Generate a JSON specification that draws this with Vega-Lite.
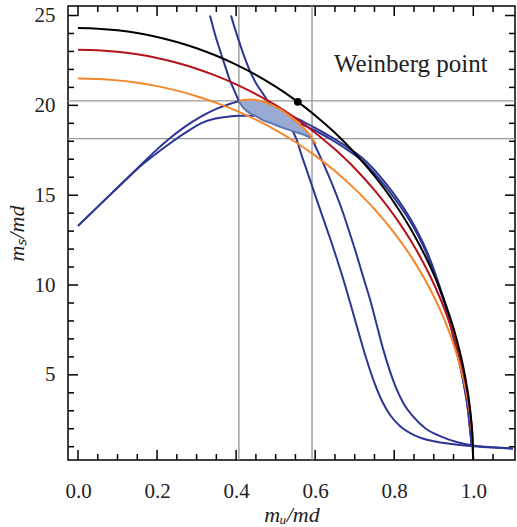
{
  "$schema": "https://vega.github.io/schema/vega-lite/v6.json",
  "width": 447,
  "height": 454,
  "autosize": "none",
  "padding": {"left": 68, "top": 6, "right": 2, "bottom": 67},
  "background": "white",
  "config": {
    "view": {"stroke": "#000", "strokeWidth": 1.5},
    "axisX": {"orient": "bottom", "ticks": false, "domain": false, "grid": false, "labelOverlap": false, "labelFlush": false,
      "labelFont": "Liberation Serif", "labelFontSize": 21, "labelColor": "#222", "labelPadding": 20,
      "titleFont": "Liberation Serif", "titleFontStyle": "italic", "titleFontWeight": "normal", "titleFontSize": 22, "titleColor": "#222", "titlePadding": 3},
    "axisY": {"orient": "left", "ticks": false, "domain": false, "grid": false, "labelOverlap": false, "labelFlush": false,
      "labelFont": "Liberation Serif", "labelFontSize": 21, "labelColor": "#222", "labelPadding": 13,
      "titleFont": "Liberation Serif", "titleFontStyle": "italic", "titleFontWeight": "normal", "titleFontSize": 22, "titleColor": "#222", "titlePadding": 6}
  },
  "datasets": {
    "ell": [
      {"s":"black","x":0,"y":24.3},{"s":"black","x":0.05,"y":24.27},{"s":"black","x":0.1,"y":24.18},{"s":"black","x":0.15,"y":24.03},{"s":"black","x":0.2,"y":23.81},{"s":"black","x":0.25,"y":23.53},{"s":"black","x":0.3,"y":23.18},{"s":"black","x":0.35,"y":22.76},{"s":"black","x":0.4,"y":22.27},{"s":"black","x":0.45,"y":21.7},{"s":"black","x":0.5,"y":21.04},{"s":"black","x":0.55,"y":20.29},{"s":"black","x":0.6,"y":19.44},{"s":"black","x":0.65,"y":18.47},{"s":"black","x":0.7,"y":17.35},{"s":"black","x":0.75,"y":16.07},{"s":"black","x":0.8,"y":14.58},{"s":"black","x":0.85,"y":12.8},{"s":"black","x":0.9,"y":10.59},{"s":"black","x":0.925,"y":9.23},{"s":"black","x":0.95,"y":7.59},{"s":"black","x":0.965,"y":6.37},{"s":"black","x":0.975,"y":5.4},{"s":"black","x":0.985,"y":4.19},{"s":"black","x":0.99,"y":3.43},{"s":"black","x":0.995,"y":2.43},{"s":"black","x":0.998,"y":1.54},{"s":"black","x":1.0,"y":0},
      {"s":"red","x":0,"y":23.1},{"s":"red","x":0.05,"y":23.07},{"s":"red","x":0.1,"y":22.98},{"s":"red","x":0.15,"y":22.84},{"s":"red","x":0.2,"y":22.63},{"s":"red","x":0.25,"y":22.37},{"s":"red","x":0.3,"y":22.04},{"s":"red","x":0.35,"y":21.64},{"s":"red","x":0.4,"y":21.17},{"s":"red","x":0.45,"y":20.63},{"s":"red","x":0.5,"y":20.01},{"s":"red","x":0.55,"y":19.29},{"s":"red","x":0.6,"y":18.48},{"s":"red","x":0.65,"y":17.55},{"s":"red","x":0.7,"y":16.5},{"s":"red","x":0.75,"y":15.28},{"s":"red","x":0.8,"y":13.86},{"s":"red","x":0.85,"y":12.17},{"s":"red","x":0.9,"y":10.07},{"s":"red","x":0.925,"y":8.78},{"s":"red","x":0.95,"y":7.21},{"s":"red","x":0.965,"y":6.06},{"s":"red","x":0.975,"y":5.13},{"s":"red","x":0.985,"y":3.99},{"s":"red","x":0.99,"y":3.26},{"s":"red","x":0.995,"y":2.31},{"s":"red","x":0.998,"y":1.46},{"s":"red","x":1.0,"y":0},
      {"s":"orange","x":0,"y":21.5},{"s":"orange","x":0.05,"y":21.47},{"s":"orange","x":0.1,"y":21.39},{"s":"orange","x":0.15,"y":21.26},{"s":"orange","x":0.2,"y":21.07},{"s":"orange","x":0.25,"y":20.82},{"s":"orange","x":0.3,"y":20.51},{"s":"orange","x":0.35,"y":20.14},{"s":"orange","x":0.4,"y":19.71},{"s":"orange","x":0.45,"y":19.2},{"s":"orange","x":0.5,"y":18.62},{"s":"orange","x":0.55,"y":17.96},{"s":"orange","x":0.6,"y":17.2},{"s":"orange","x":0.65,"y":16.34},{"s":"orange","x":0.7,"y":15.35},{"s":"orange","x":0.75,"y":14.22},{"s":"orange","x":0.8,"y":12.9},{"s":"orange","x":0.85,"y":11.33},{"s":"orange","x":0.9,"y":9.37},{"s":"orange","x":0.925,"y":8.17},{"s":"orange","x":0.95,"y":6.71},{"s":"orange","x":0.965,"y":5.64},{"s":"orange","x":0.975,"y":4.78},{"s":"orange","x":0.985,"y":3.71},{"s":"orange","x":0.99,"y":3.03},{"s":"orange","x":0.995,"y":2.15},{"s":"orange","x":0.998,"y":1.36},{"s":"orange","x":1.0,"y":0}
    ],
    "blue": [
      {"s":"A1","x":0,"y":13.29},{"s":"A1","x":0.085,"y":15.1},{"s":"A1","x":0.168,"y":16.87},{"s":"A1","x":0.2,"y":17.55},{"s":"A1","x":0.227,"y":18.07},{"s":"A1","x":0.27,"y":18.8},{"s":"A1","x":0.311,"y":19.37},{"s":"A1","x":0.35,"y":19.8},{"s":"A1","x":0.38,"y":20.05},{"s":"A1","x":0.412,"y":20.24},{"s":"A1","x":0.44,"y":20.28},{"s":"A1","x":0.48,"y":20.08},{"s":"A1","x":0.52,"y":19.65},{"s":"A1","x":0.56,"y":19.2},{"s":"A1","x":0.6,"y":18.75},{"s":"A1","x":0.64,"y":18.25},{"s":"A1","x":0.68,"y":17.7},{"s":"A1","x":0.72,"y":17.05},{"s":"A1","x":0.764,"y":16.05},{"s":"A1","x":0.8,"y":15.05},{"s":"A1","x":0.847,"y":13.45},{"s":"A1","x":0.882,"y":11.9},{"s":"A1","x":0.91,"y":10.25},{"s":"A1","x":0.93,"y":8.85},{"s":"A1","x":0.945,"y":7.6},{"s":"A1","x":0.96,"y":6.2},{"s":"A1","x":0.974,"y":4.75},{"s":"A1","x":0.986,"y":3.15},{"s":"A1","x":0.996,"y":1.05},
      {"s":"A2","x":0,"y":13.29},{"s":"A2","x":0.085,"y":15.1},{"s":"A2","x":0.168,"y":16.8},{"s":"A2","x":0.2,"y":17.35},{"s":"A2","x":0.227,"y":17.79},{"s":"A2","x":0.27,"y":18.45},{"s":"A2","x":0.311,"y":19.0},{"s":"A2","x":0.345,"y":19.25},{"s":"A2","x":0.379,"y":19.37},{"s":"A2","x":0.41,"y":19.42},{"s":"A2","x":0.45,"y":19.42},{"s":"A2","x":0.5,"y":19.3},{"s":"A2","x":0.55,"y":19.05},{"s":"A2","x":0.6,"y":18.6},{"s":"A2","x":0.64,"y":18.1},{"s":"A2","x":0.68,"y":17.55},{"s":"A2","x":0.72,"y":16.9},{"s":"A2","x":0.764,"y":15.85},{"s":"A2","x":0.8,"y":14.85},{"s":"A2","x":0.847,"y":13.3},{"s":"A2","x":0.882,"y":11.75},{"s":"A2","x":0.91,"y":10.1},{"s":"A2","x":0.93,"y":8.75},{"s":"A2","x":0.945,"y":7.5},{"s":"A2","x":0.96,"y":6.12},{"s":"A2","x":0.974,"y":4.7},{"s":"A2","x":0.986,"y":3.12},{"s":"A2","x":0.996,"y":1.05},
      {"s":"S1","x":0.334,"y":25.0},{"s":"S1","x":0.346,"y":24.0},{"s":"S1","x":0.359,"y":23.07},{"s":"S1","x":0.372,"y":22.2},{"s":"S1","x":0.384,"y":21.41},{"s":"S1","x":0.396,"y":20.8},{"s":"S1","x":0.407,"y":20.25},{"s":"S1","x":0.44,"y":19.65},{"s":"S1","x":0.5,"y":19.1},{"s":"S1","x":0.56,"y":18.6},{"s":"S1","x":0.592,"y":18.15},{"s":"S1","x":0.6,"y":17.75},{"s":"S1","x":0.62,"y":16.8},{"s":"S1","x":0.645,"y":15.5},{"s":"S1","x":0.67,"y":14.05},{"s":"S1","x":0.685,"y":13.05},{"s":"S1","x":0.701,"y":11.96},{"s":"S1","x":0.72,"y":10.55},{"s":"S1","x":0.739,"y":9.18},{"s":"S1","x":0.755,"y":7.85},{"s":"S1","x":0.771,"y":6.5},{"s":"S1","x":0.79,"y":5.15},{"s":"S1","x":0.806,"y":4.2},{"s":"S1","x":0.825,"y":3.35},{"s":"S1","x":0.847,"y":2.7},{"s":"S1","x":0.88,"y":2.0},{"s":"S1","x":0.916,"y":1.59},{"s":"S1","x":0.96,"y":1.25},{"s":"S1","x":1.0,"y":1.07},{"s":"S1","x":1.05,"y":0.97},{"s":"S1","x":1.1,"y":0.91},
      {"s":"S2","x":0.387,"y":25.0},{"s":"S2","x":0.398,"y":24.2},{"s":"S2","x":0.409,"y":23.46},{"s":"S2","x":0.42,"y":22.75},{"s":"S2","x":0.434,"y":21.96},{"s":"S2","x":0.45,"y":21.25},{"s":"S2","x":0.467,"y":20.68},{"s":"S2","x":0.48,"y":20.25},{"s":"S2","x":0.492,"y":19.91},{"s":"S2","x":0.51,"y":19.55},{"s":"S2","x":0.525,"y":19.2},{"s":"S2","x":0.54,"y":18.7},{"s":"S2","x":0.553,"y":18.1},{"s":"S2","x":0.566,"y":17.2},{"s":"S2","x":0.58,"y":16.3},{"s":"S2","x":0.6,"y":15.0},{"s":"S2","x":0.62,"y":13.72},{"s":"S2","x":0.64,"y":12.45},{"s":"S2","x":0.655,"y":11.45},{"s":"S2","x":0.67,"y":10.4},{"s":"S2","x":0.688,"y":9.05},{"s":"S2","x":0.71,"y":7.35},{"s":"S2","x":0.73,"y":5.85},{"s":"S2","x":0.75,"y":4.55},{"s":"S2","x":0.77,"y":3.5},{"s":"S2","x":0.79,"y":2.75},{"s":"S2","x":0.815,"y":2.14},{"s":"S2","x":0.85,"y":1.65},{"s":"S2","x":0.9,"y":1.3},{"s":"S2","x":0.95,"y":1.14},{"s":"S2","x":1.0,"y":1.03},{"s":"S2","x":1.05,"y":0.95},{"s":"S2","x":1.1,"y":0.89}
    ],
    "region": [
      {"x":0.407,"top":20.25,"bot":20.25},{"x":0.415,"top":20.29,"bot":19.95},{"x":0.425,"top":20.31,"bot":19.72},{"x":0.435,"top":20.32,"bot":19.56},{"x":0.45,"top":20.3,"bot":19.4},{"x":0.47,"top":20.2,"bot":19.15},{"x":0.49,"top":20.03,"bot":19.0},{"x":0.51,"top":19.8,"bot":18.82},{"x":0.53,"top":19.5,"bot":18.66},{"x":0.55,"top":19.15,"bot":18.52},{"x":0.57,"top":18.75,"bot":18.37},{"x":0.585,"top":18.4,"bot":18.24},{"x":0.592,"top":18.15,"bot":18.15}
    ],
    "arc": [
      {"x":0.407,"y":20.25},{"x":0.415,"y":20.29},{"x":0.425,"y":20.31},{"x":0.435,"y":20.32},{"x":0.45,"y":20.3},{"x":0.47,"y":20.2},{"x":0.49,"y":20.03},{"x":0.51,"y":19.8},{"x":0.53,"y":19.5},{"x":0.55,"y":19.15},{"x":0.57,"y":18.75},{"x":0.585,"y":18.4},{"x":0.592,"y":18.15},{"x":0.602,"y":17.85}
    ],
    "vlines": [{"v":0.407},{"v":0.592}],
    "hlines": [{"v":20.25},{"v":18.15}],
    "xmaj": [{"v":0},{"v":0.2},{"v":0.4},{"v":0.6},{"v":0.8},{"v":1.0}],
    "xmin": [{"v":0.05},{"v":0.1},{"v":0.15},{"v":0.25},{"v":0.3},{"v":0.35},{"v":0.45},{"v":0.5},{"v":0.55},{"v":0.65},{"v":0.7},{"v":0.75},{"v":0.85},{"v":0.9},{"v":0.95},{"v":1.05}],
    "ymaj": [{"v":5},{"v":10},{"v":15},{"v":20},{"v":25}],
    "ymin": [{"v":1},{"v":2},{"v":3},{"v":4},{"v":6},{"v":7},{"v":8},{"v":9},{"v":11},{"v":12},{"v":13},{"v":14},{"v":16},{"v":17},{"v":18},{"v":19},{"v":21},{"v":22},{"v":23},{"v":24}],
    "wp": [{"x":0.556,"y":20.2}],
    "label": [{"x":0.842,"y":22.3,"t":"Weinberg point"}]
  },
  "layer": [
    {
      "data": {"name": "vlines"},
      "mark": {"type": "rule", "color": "#999999", "strokeWidth": 1.4},
      "encoding": {"x": {"field": "v", "type": "quantitative", "scale": {"domain": [-0.0253, 1.1055], "nice": false, "zero": false}, "axis": {"title": "mᵤ/md", "values": [0,0.2,0.4,0.6,0.8,1], "format": ".1f"}}}
    },
    {
      "data": {"name": "hlines"},
      "mark": {"type": "rule", "color": "#999999", "strokeWidth": 1.4},
      "encoding": {"y": {"field": "v", "type": "quantitative", "scale": {"domain": [0.26, 25.53], "nice": false, "zero": false}, "axis": {"title": "mₛ/md", "values": [5,10,15,20,25]}}}
    },
    {
      "data": {"name": "xmaj"},
      "mark": {"type": "rule", "color": "#000", "strokeWidth": 1.5},
      "encoding": {"x": {"field": "v", "type": "quantitative", "scale": {"domain": [-0.0253, 1.1055], "nice": false, "zero": false}, "axis": {"title": "mᵤ/md", "values": [0,0.2,0.4,0.6,0.8,1], "format": ".1f"}},
        "y": {"datum": 0.26, "type": "quantitative", "scale": {"domain": [0.26, 25.53], "nice": false, "zero": false}, "axis": {"title": "mₛ/md", "values": [5,10,15,20,25]}}, "y2": {"datum": 0.816}}
    },
    {
      "data": {"name": "xmaj"},
      "mark": {"type": "rule", "color": "#000", "strokeWidth": 1.5},
      "encoding": {"x": {"field": "v", "type": "quantitative", "scale": {"domain": [-0.0253, 1.1055], "nice": false, "zero": false}, "axis": {"title": "mᵤ/md", "values": [0,0.2,0.4,0.6,0.8,1], "format": ".1f"}},
        "y": {"datum": 25.53, "type": "quantitative", "scale": {"domain": [0.26, 25.53], "nice": false, "zero": false}, "axis": {"title": "mₛ/md", "values": [5,10,15,20,25]}}, "y2": {"datum": 24.974}}
    },
    {
      "data": {"name": "xmin"},
      "mark": {"type": "rule", "color": "#000", "strokeWidth": 1.5},
      "encoding": {"x": {"field": "v", "type": "quantitative", "scale": {"domain": [-0.0253, 1.1055], "nice": false, "zero": false}, "axis": {"title": "mᵤ/md", "values": [0,0.2,0.4,0.6,0.8,1], "format": ".1f"}},
        "y": {"datum": 0.26, "type": "quantitative", "scale": {"domain": [0.26, 25.53], "nice": false, "zero": false}, "axis": {"title": "mₛ/md", "values": [5,10,15,20,25]}}, "y2": {"datum": 0.593}}
    },
    {
      "data": {"name": "xmin"},
      "mark": {"type": "rule", "color": "#000", "strokeWidth": 1.5},
      "encoding": {"x": {"field": "v", "type": "quantitative", "scale": {"domain": [-0.0253, 1.1055], "nice": false, "zero": false}, "axis": {"title": "mᵤ/md", "values": [0,0.2,0.4,0.6,0.8,1], "format": ".1f"}},
        "y": {"datum": 25.53, "type": "quantitative", "scale": {"domain": [0.26, 25.53], "nice": false, "zero": false}, "axis": {"title": "mₛ/md", "values": [5,10,15,20,25]}}, "y2": {"datum": 25.197}}
    },
    {
      "data": {"name": "ymaj"},
      "mark": {"type": "rule", "color": "#000", "strokeWidth": 1.5},
      "encoding": {"y": {"field": "v", "type": "quantitative", "scale": {"domain": [0.26, 25.53], "nice": false, "zero": false}, "axis": {"title": "mₛ/md", "values": [5,10,15,20,25]}},
        "x": {"datum": -0.0253, "type": "quantitative", "scale": {"domain": [-0.0253, 1.1055], "nice": false, "zero": false}, "axis": {"title": "mᵤ/md", "values": [0,0.2,0.4,0.6,0.8,1], "format": ".1f"}}, "x2": {"datum": 0.0}}
    },
    {
      "data": {"name": "ymaj"},
      "mark": {"type": "rule", "color": "#000", "strokeWidth": 1.5},
      "encoding": {"y": {"field": "v", "type": "quantitative", "scale": {"domain": [0.26, 25.53], "nice": false, "zero": false}, "axis": {"title": "mₛ/md", "values": [5,10,15,20,25]}},
        "x": {"datum": 1.1055, "type": "quantitative", "scale": {"domain": [-0.0253, 1.1055], "nice": false, "zero": false}, "axis": {"title": "mᵤ/md", "values": [0,0.2,0.4,0.6,0.8,1], "format": ".1f"}}, "x2": {"datum": 1.0802}}
    },
    {
      "data": {"name": "ymin"},
      "mark": {"type": "rule", "color": "#000", "strokeWidth": 1.5},
      "encoding": {"y": {"field": "v", "type": "quantitative", "scale": {"domain": [0.26, 25.53], "nice": false, "zero": false}, "axis": {"title": "mₛ/md", "values": [5,10,15,20,25]}},
        "x": {"datum": -0.0253, "type": "quantitative", "scale": {"domain": [-0.0253, 1.1055], "nice": false, "zero": false}, "axis": {"title": "mᵤ/md", "values": [0,0.2,0.4,0.6,0.8,1], "format": ".1f"}}, "x2": {"datum": -0.0101}}
    },
    {
      "data": {"name": "ymin"},
      "mark": {"type": "rule", "color": "#000", "strokeWidth": 1.5},
      "encoding": {"y": {"field": "v", "type": "quantitative", "scale": {"domain": [0.26, 25.53], "nice": false, "zero": false}, "axis": {"title": "mₛ/md", "values": [5,10,15,20,25]}},
        "x": {"datum": 1.1055, "type": "quantitative", "scale": {"domain": [-0.0253, 1.1055], "nice": false, "zero": false}, "axis": {"title": "mᵤ/md", "values": [0,0.2,0.4,0.6,0.8,1], "format": ".1f"}}, "x2": {"datum": 1.0903}}
    },
    {
      "data": {"name": "blue"},
      "mark": {"type": "line", "color": "#2d3694", "strokeWidth": 2, "interpolate": "monotone", "clip": true},
      "encoding": {
        "detail": {"field": "s", "type": "nominal"},
        "x": {"field": "x", "type": "quantitative", "scale": {"domain": [-0.0253, 1.1055], "nice": false, "zero": false}, "axis": {"title": "mᵤ/md", "values": [0,0.2,0.4,0.6,0.8,1], "format": ".1f"}},
        "y": {"field": "y", "type": "quantitative", "scale": {"domain": [0.26, 25.53], "nice": false, "zero": false}, "axis": {"title": "mₛ/md", "values": [5,10,15,20,25]}}
      }
    },
    {
      "data": {"name": "ell"},
      "transform": [{"filter": "datum.s === 'orange'"}],
      "mark": {"type": "line", "color": "#f5872a", "strokeWidth": 2, "interpolate": "monotone", "clip": true},
      "encoding": {
        "x": {"field": "x", "type": "quantitative", "scale": {"domain": [-0.0253, 1.1055], "nice": false, "zero": false}, "axis": {"title": "mᵤ/md", "values": [0,0.2,0.4,0.6,0.8,1], "format": ".1f"}},
        "y": {"field": "y", "type": "quantitative", "scale": {"domain": [0.26, 25.53], "nice": false, "zero": false}, "axis": {"title": "mₛ/md", "values": [5,10,15,20,25]}}
      }
    },
    {
      "data": {"name": "ell"},
      "transform": [{"filter": "datum.s === 'red'"}],
      "mark": {"type": "line", "color": "#b5121b", "strokeWidth": 2, "interpolate": "monotone", "clip": true},
      "encoding": {
        "x": {"field": "x", "type": "quantitative", "scale": {"domain": [-0.0253, 1.1055], "nice": false, "zero": false}, "axis": {"title": "mᵤ/md", "values": [0,0.2,0.4,0.6,0.8,1], "format": ".1f"}},
        "y": {"field": "y", "type": "quantitative", "scale": {"domain": [0.26, 25.53], "nice": false, "zero": false}, "axis": {"title": "mₛ/md", "values": [5,10,15,20,25]}}
      }
    },
    {
      "data": {"name": "ell"},
      "transform": [{"filter": "datum.s === 'black'"}],
      "mark": {"type": "line", "color": "#000000", "strokeWidth": 2, "interpolate": "monotone", "clip": true},
      "encoding": {
        "x": {"field": "x", "type": "quantitative", "scale": {"domain": [-0.0253, 1.1055], "nice": false, "zero": false}, "axis": {"title": "mᵤ/md", "values": [0,0.2,0.4,0.6,0.8,1], "format": ".1f"}},
        "y": {"field": "y", "type": "quantitative", "scale": {"domain": [0.26, 25.53], "nice": false, "zero": false}, "axis": {"title": "mₛ/md", "values": [5,10,15,20,25]}}
      }
    },
    {
      "data": {"name": "region"},
      "mark": {"type": "area", "color": "#9aaad4", "opacity": 1, "interpolate": "monotone"},
      "encoding": {
        "x": {"field": "x", "type": "quantitative", "scale": {"domain": [-0.0253, 1.1055], "nice": false, "zero": false}, "axis": {"title": "mᵤ/md", "values": [0,0.2,0.4,0.6,0.8,1], "format": ".1f"}},
        "y": {"field": "top", "type": "quantitative", "scale": {"domain": [0.26, 25.53], "nice": false, "zero": false}, "axis": {"title": "mₛ/md", "values": [5,10,15,20,25]}},
        "y2": {"field": "bot"}
      }
    },
    {
      "data": {"name": "region"},
      "mark": {"type": "line", "color": "#5a78b8", "strokeWidth": 2, "interpolate": "monotone"},
      "encoding": {
        "x": {"field": "x", "type": "quantitative", "scale": {"domain": [-0.0253, 1.1055], "nice": false, "zero": false}, "axis": {"title": "mᵤ/md", "values": [0,0.2,0.4,0.6,0.8,1], "format": ".1f"}},
        "y": {"field": "bot", "type": "quantitative", "scale": {"domain": [0.26, 25.53], "nice": false, "zero": false}, "axis": {"title": "mₛ/md", "values": [5,10,15,20,25]}}
      }
    },
    {
      "data": {"name": "arc"},
      "mark": {"type": "line", "color": "#f5872a", "strokeWidth": 2, "interpolate": "monotone"},
      "encoding": {
        "x": {"field": "x", "type": "quantitative", "scale": {"domain": [-0.0253, 1.1055], "nice": false, "zero": false}, "axis": {"title": "mᵤ/md", "values": [0,0.2,0.4,0.6,0.8,1], "format": ".1f"}},
        "y": {"field": "y", "type": "quantitative", "scale": {"domain": [0.26, 25.53], "nice": false, "zero": false}, "axis": {"title": "mₛ/md", "values": [5,10,15,20,25]}}
      }
    },
    {
      "data": {"name": "wp"},
      "mark": {"type": "point", "filled": true, "color": "#000", "size": 60, "opacity": 1},
      "encoding": {
        "x": {"field": "x", "type": "quantitative", "scale": {"domain": [-0.0253, 1.1055], "nice": false, "zero": false}, "axis": {"title": "mᵤ/md", "values": [0,0.2,0.4,0.6,0.8,1], "format": ".1f"}},
        "y": {"field": "y", "type": "quantitative", "scale": {"domain": [0.26, 25.53], "nice": false, "zero": false}, "axis": {"title": "mₛ/md", "values": [5,10,15,20,25]}}
      }
    },
    {
      "data": {"name": "label"},
      "mark": {"type": "text", "font": "Liberation Serif", "fontSize": 25, "color": "#222", "align": "center", "baseline": "middle"},
      "encoding": {
        "x": {"field": "x", "type": "quantitative", "scale": {"domain": [-0.0253, 1.1055], "nice": false, "zero": false}, "axis": {"title": "mᵤ/md", "values": [0,0.2,0.4,0.6,0.8,1], "format": ".1f"}},
        "y": {"field": "y", "type": "quantitative", "scale": {"domain": [0.26, 25.53], "nice": false, "zero": false}, "axis": {"title": "mₛ/md", "values": [5,10,15,20,25]}},
        "text": {"field": "t"}
      }
    }
  ]
}
